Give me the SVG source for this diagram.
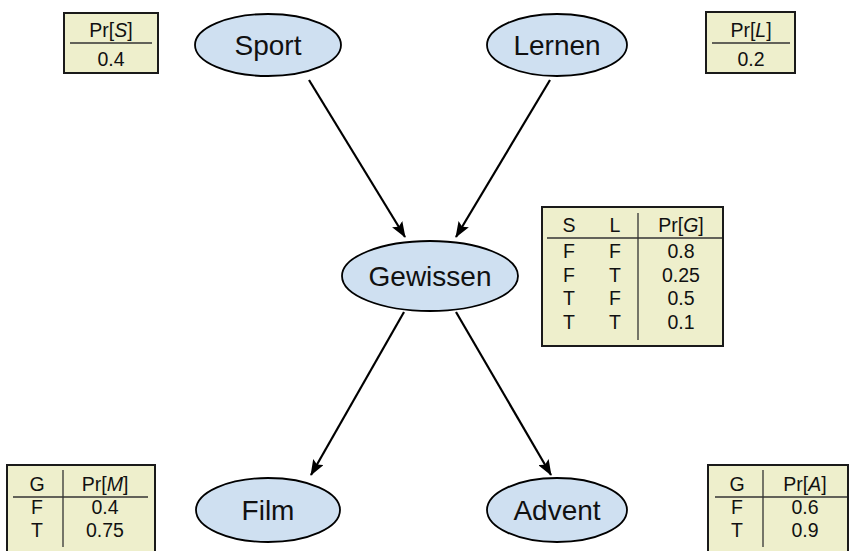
<svg xmlns="http://www.w3.org/2000/svg" width="849" height="551" viewBox="0 0 849 551">
<defs>
<style>
.node{fill:#cfe0f1;stroke:#000;stroke-width:1.8}
.nt{font-family:"Liberation Sans",Arial,sans-serif;font-size:28px;fill:#111;text-anchor:middle}
.tb{fill:#eeefcc;stroke:#1a1a1a;stroke-width:2}
.tl{stroke:#333;stroke-width:1.3}
.tt{font-family:"Liberation Sans",Arial,sans-serif;font-size:19.5px;fill:#111;text-anchor:middle}
.edge{stroke:#000;stroke-width:2.2;fill:none;marker-end:url(#ah)}
</style>
<marker id="ah" viewBox="0 0 16 12" refX="15" refY="6" markerWidth="16" markerHeight="12" markerUnits="userSpaceOnUse" orient="auto">
<path d="M0,0 L16,6 L0,12 L3,6 Z" fill="#000"/>
</marker>
</defs>
<rect width="849" height="551" fill="#fff"/>
<g id="edges">
<line class="edge" x1="309" y1="80" x2="405" y2="237"/>
<line class="edge" x1="550" y1="80" x2="456" y2="237"/>
<line class="edge" x1="404" y1="312" x2="311" y2="475"/>
<line class="edge" x1="456" y1="312" x2="551" y2="475"/>
</g>
<g id="sport"><ellipse class="node" cx="268" cy="45" rx="73" ry="31"/><text class="nt" x="268" y="55">Sport</text></g>
<g id="lernen"><ellipse class="node" cx="557" cy="45" rx="70" ry="31"/><text class="nt" x="557" y="55">Lernen</text></g>
<g id="gewissen"><ellipse class="node" cx="430" cy="276" rx="88" ry="35"/><text class="nt" x="430" y="286">Gewissen</text></g>
<g id="film"><ellipse class="node" cx="268" cy="510" rx="72" ry="32"/><text class="nt" x="268" y="520">Film</text></g>
<g id="advent"><ellipse class="node" cx="557" cy="510" rx="70" ry="32"/><text class="nt" x="557" y="520">Advent</text></g>
<g id="tableS">
<rect class="tb" x="64" y="13" width="94" height="60"/>
<line class="tl" x1="70" y1="43" x2="152" y2="43"/>
<text class="tt" x="111" y="37">Pr[<tspan font-style="italic">S</tspan>]</text>
<text class="tt" x="111" y="66">0.4</text>
</g>
<g id="tableL">
<rect class="tb" x="706" y="12" width="89" height="61"/>
<line class="tl" x1="712" y1="43" x2="790" y2="43"/>
<text class="tt" x="751" y="37">Pr[<tspan font-style="italic">L</tspan>]</text>
<text class="tt" x="751" y="66">0.2</text>
</g>
<g id="tableG">
<rect class="tb" x="542" y="207" width="181" height="139"/>
<line class="tl" x1="547" y1="238" x2="722" y2="238"/>
<line class="tl" x1="638" y1="213" x2="638" y2="340"/>
<text class="tt" x="569" y="232">S</text>
<text class="tt" x="615" y="232">L</text>
<text class="tt" x="681" y="232">Pr[<tspan font-style="italic">G</tspan>]</text>
<text class="tt" x="569" y="258">F</text><text class="tt" x="615" y="258">F</text><text class="tt" x="681" y="258">0.8</text>
<text class="tt" x="569" y="281.5">F</text><text class="tt" x="615" y="281.5">T</text><text class="tt" x="681" y="281.5">0.25</text>
<text class="tt" x="569" y="305">T</text><text class="tt" x="615" y="305">F</text><text class="tt" x="681" y="305">0.5</text>
<text class="tt" x="569" y="328.5">T</text><text class="tt" x="615" y="328.5">T</text><text class="tt" x="681" y="328.5">0.1</text>
</g>
<g id="tableM">
<rect class="tb" x="7" y="465" width="148" height="95"/>
<line class="tl" x1="13" y1="497" x2="148" y2="497"/>
<line class="tl" x1="63" y1="470" x2="63" y2="547"/>
<text class="tt" x="37" y="491">G</text>
<text class="tt" x="105" y="491">Pr[<tspan font-style="italic">M</tspan>]</text>
<text class="tt" x="37" y="514">F</text><text class="tt" x="105" y="514">0.4</text>
<text class="tt" x="37" y="537">T</text><text class="tt" x="105" y="537">0.75</text>
</g>
<g id="tableA">
<rect class="tb" x="708" y="465" width="140" height="95"/>
<line class="tl" x1="715" y1="497" x2="847" y2="497"/>
<line class="tl" x1="763" y1="470" x2="763" y2="547"/>
<text class="tt" x="737" y="491">G</text>
<text class="tt" x="805" y="491">Pr[<tspan font-style="italic">A</tspan>]</text>
<text class="tt" x="737" y="514">F</text><text class="tt" x="805" y="514">0.6</text>
<text class="tt" x="737" y="537">T</text><text class="tt" x="805" y="537">0.9</text>
</g>
</svg>
